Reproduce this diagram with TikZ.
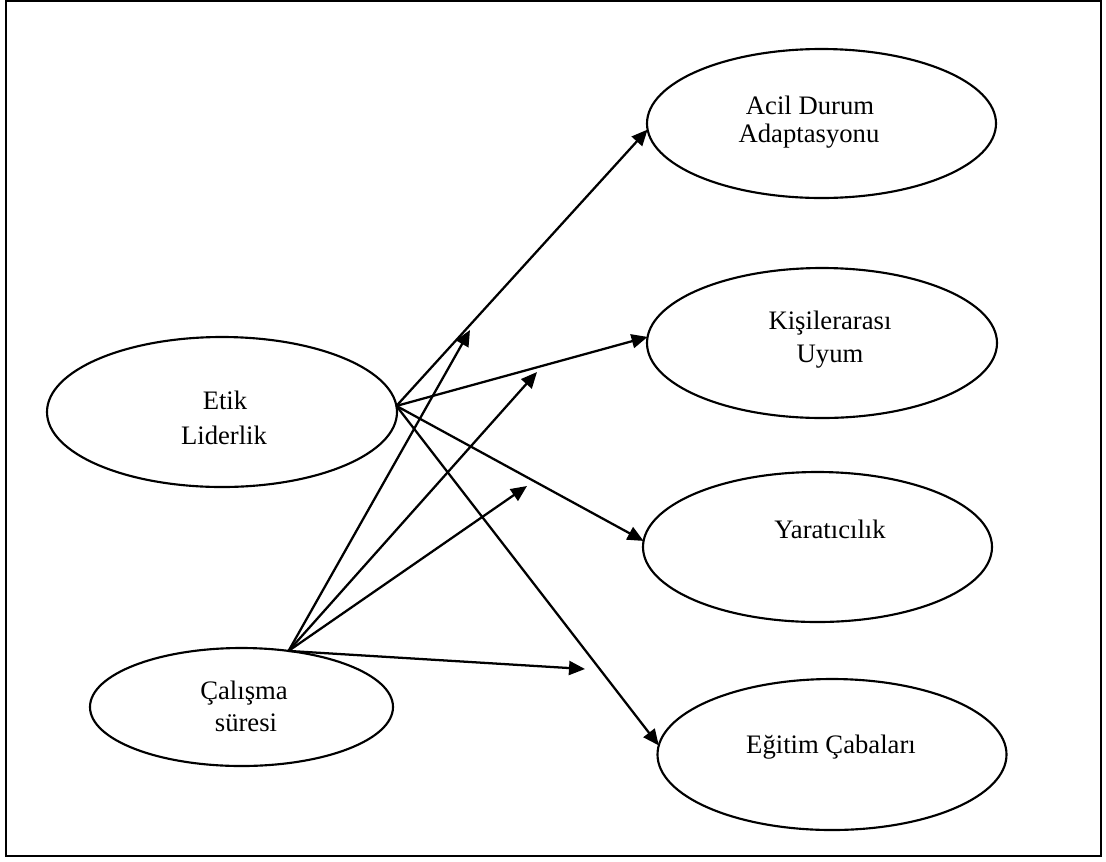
\documentclass[tikz,border=0pt]{standalone}
\usepackage{fontspec}
\setmainfont{Liberation Serif}
\usetikzlibrary{shapes.geometric,arrows.meta}
\begin{document}
\begin{tikzpicture}[x=0.75pt,y=-0.75pt,
  oval/.style={draw,ellipse,line width=1.6pt,inner sep=0pt,outer sep=0pt},
  lbl/.style={anchor=base,inner sep=0pt,font=\fontsize{20}{24}\selectfont},
  link/.style={line width=1.7pt,-{Triangle[length=12pt,width=10.5pt]}},
  frame/.style={line width=1.6pt}]
\useasboundingbox (0,0) rectangle (1106,861);
\draw[frame] (6,1) rectangle (1101,856);
% ellipses
\node[oval,minimum width=349*0.75pt,minimum height=149*0.75pt] (acil) at (821.5,123.5) {};
\node[oval,minimum width=350*0.75pt,minimum height=150*0.75pt] (kisi) at (822,343) {};
\node[oval,minimum width=349*0.75pt,minimum height=150*0.75pt] (yarat) at (817.5,547) {};
\node[oval,minimum width=349*0.75pt,minimum height=151*0.75pt] (egitim) at (832,754.5) {};
\node[oval,minimum width=350*0.75pt,minimum height=150*0.75pt] (etik) at (222,412) {};
\node[oval,minimum width=303*0.75pt,minimum height=118*0.75pt] (calisma) at (241.5,707) {};
% texts
\node[lbl] (acil1) at (810,114) {Acil Durum};
\node[lbl] (acil2) at (809,142) {Adaptasyonu};
\node[lbl] (kisi1) at (830,329) {Kişilerarası};
\node[lbl] (kisi2) at (830,362) {Uyum};
\node[lbl] (etik1) at (225,409) {Etik};
\node[lbl] (etik2) at (224,444) {Liderlik};
\node[lbl] (yarat1) at (830,538) {Yaratıcılık};
\node[lbl] (cal1) at (244,699) {Çalışma};
\node[lbl] (cal2) at (246,731) {süresi};
\node[lbl] (egit1) at (831,753) {Eğitim Çabaları};
% moderation targets
\coordinate (m1) at (470,330);
\coordinate (m2) at (537,372);
\coordinate (m3) at (527,486);
\coordinate (m4) at (585,669);
% connectors
\draw[link] (etik.2) -- (acil.182);
\draw[link] (etik.2) -- (kisi.178);
\draw[link] (etik.2) -- (yarat.178);
\draw[link] (etik.2) -- (egitim.177);
\draw[link] (calisma.50) -- (m1);
\draw[link] (calisma.50) -- (m2);
\draw[link] (calisma.50) -- (m3);
\draw[link] (calisma.50) -- (m4);
\end{tikzpicture}
\end{document}
